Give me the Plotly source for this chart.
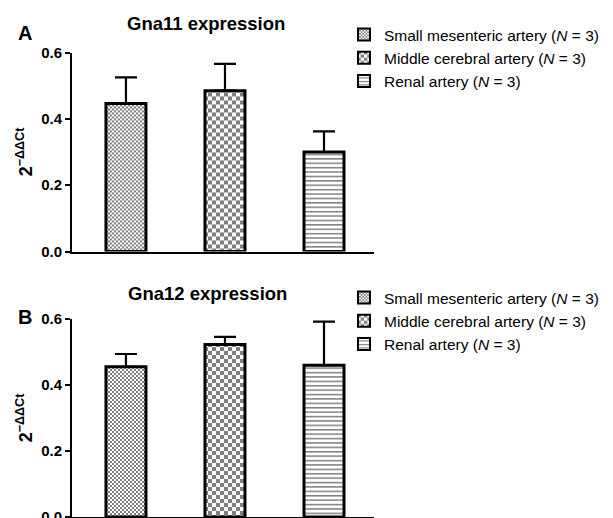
import plotly.graph_objects as go

categories = ["Small mesenteric artery", "Middle cerebral artery", "Renal artery"]
legend_labels = ["Small mesenteric artery (<i>N</i> = 3)",
                 "Middle cerebral artery (<i>N</i> = 3)",
                 "Renal artery (<i>N</i> = 3)"]
gna11_mean = [0.446, 0.485, 0.300]
gna11_err = [0.079, 0.081, 0.062]
gna12_mean = [0.455, 0.523, 0.460]
gna12_err = [0.039, 0.023, 0.132]
y_ticks = [0.0, 0.2, 0.4, 0.6]

patterns = [dict(path="M0,0H2V2H0Z M2,2H4V4H2Z", size=4, fgcolor="black", bgcolor="white"),
            dict(path="M0,0H4V4H0Z M4,4H8V8H4Z", size=8, fgcolor="black", bgcolor="white"),
            dict(path="M0,0H4.4V1.5H0Z", size=4.4, fgcolor="black", bgcolor="white")]

# page body has an 8px margin: work in figure pixels = viewport pixels - 8
OFF = 8
W, H = 613 - OFF, 518 - OFF
FONT = "Liberation Sans, Arial, sans-serif"

fig = go.Figure()

def px_y(p):
    return 1 - (p - OFF) / H

def px_x(p):
    return (p - OFF) / W

xdom = [px_x(72), px_x(374)]

for panel, (means, errs) in enumerate([(gna11_mean, gna11_err), (gna12_mean, gna12_err)]):
    xa = "x" if panel == 0 else "x2"
    ya = "y" if panel == 0 else "y2"
    lg = "legend" if panel == 0 else "legend2"
    for i, cat in enumerate(categories):
        fig.add_trace(go.Bar(
            x=[cat], y=[means[i]], name=legend_labels[i],
            xaxis=xa, yaxis=ya, legend=lg, width=0.404,
            marker=dict(color="white", pattern=patterns[i],
                        line=dict(color="black", width=3)),
            error_y=dict(type="data", symmetric=False, array=[errs[i]], arrayminus=[0],
                         color="black", thickness=2.2, width=11),
        ))

axis_common_y = dict(range=[0, 0.6], tickvals=y_ticks, tickformat=".1f", automargin=False,
                     ticklabeloverflow="allow",
                     showgrid=False, zeroline=False, showline=True, linecolor="black",
                     linewidth=2, ticks="outside", ticklen=5, tickwidth=2, tickcolor="black",
                     tickfont=dict(family=FONT, size=15, color="black", weight="bold"),
                     title=dict(text="<b>2<sup>−ΔΔCt</sup></b>", standoff=4,
                                font=dict(family=FONT, size=18, color="black")))
axis_common_x = dict(range=[-0.545, 2.505], categoryorder="array", categoryarray=categories,
                     automargin=False,
                     showgrid=False, zeroline=False, showline=True, linecolor="black",
                     linewidth=2, ticks="", showticklabels=False)

fig.update_layout(
    xaxis=dict(domain=xdom, anchor="y", **axis_common_x),
    yaxis=dict(domain=[px_y(251.5), px_y(52.5)], anchor="x", **axis_common_y),
    xaxis2=dict(domain=xdom, anchor="y2", **axis_common_x),
    yaxis2=dict(domain=[max(0, px_y(517)), px_y(319)], anchor="x2", **axis_common_y),
)

legend_common = dict(font=dict(family=FONT, size=15.5, color="black"), bgcolor="rgba(0,0,0,0)",
                     tracegroupgap=0, itemsizing="constant", xanchor="left", yanchor="top",
                     itemwidth=30)
fig.update_layout(
    legend=dict(x=px_x(344), y=px_y(18), **legend_common),
    legend2=dict(x=px_x(344), y=px_y(281), **legend_common),
)

annots = [
    dict(text="<b>Gna11 expression</b>", x=px_x(206), y=px_y(23.5), size=18.5),
    dict(text="<b>Gna12 expression</b>", x=px_x(207), y=px_y(293.5), size=18.5),
    dict(text="<b>A</b>", x=px_x(25), y=px_y(33), size=20),
    dict(text="<b>B</b>", x=px_x(25), y=px_y(317), size=20),
]
for a in annots:
    fig.add_annotation(text=a["text"], x=a["x"], y=a["y"], xref="paper", yref="paper",
                       xanchor="center", yanchor="middle", showarrow=False,
                       font=dict(family=FONT, size=a["size"], color="black"))

fig.update_layout(width=W, height=H, margin=dict(l=0, r=0, t=0, b=0, autoexpand=False),
                  paper_bgcolor="white", plot_bgcolor="white", barmode="overlay",
                  font=dict(family=FONT, color="black"), showlegend=True)

fig.write_html("out.html")
